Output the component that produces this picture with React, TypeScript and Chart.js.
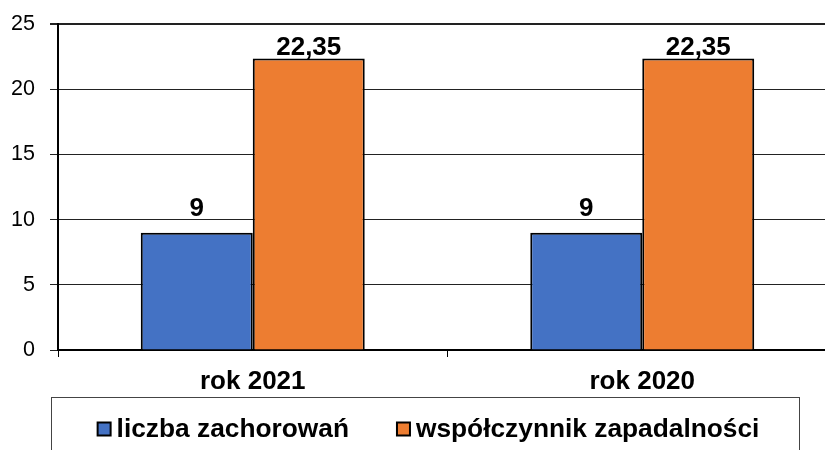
import React, { useEffect, useRef } from "react";
import { Chart, registerables } from "chart.js";

Chart.register(...registerables);

const categories = ["rok 2021", "rok 2020"];
const seriesNames = ["liczba zachorowań", "współczynnik zapadalności"];
const casesValues = [9, 9];
const rateValues = [22.35, 22.35];
const labelTexts = [["9", "9"], ["22,35", "22,35"]];
const yTicks = [0, 5, 10, 15, 20, 25];

const FONT = "'Liberation Sans', Arial, sans-serif";
const COLORS = ["#4472C4", "#ED7D31"];

const dataLabelPlugin = {
  id: "dataLabels",
  afterDatasetsDraw(chart: any) {
    const ctx = chart.ctx;
    ctx.save();
    ctx.font = `bold 26px ${FONT}`;
    ctx.fillStyle = "#000";
    ctx.textAlign = "center";
    ctx.textBaseline = "alphabetic";
    chart.data.datasets.forEach((ds: any, di: number) => {
      const meta = chart.getDatasetMeta(di);
      meta.data.forEach((bar: any, i: number) => {
        const y = Math.max(bar.y - 17, chart.chartArea.top + 31);
        ctx.fillText(labelTexts[di][i], bar.x, y);
      });
    });
    ctx.restore();
  },
};

const legendPlugin = {
  id: "boxLegend",
  afterDraw(chart: any) {
    const ctx = chart.ctx;
    ctx.save();
    const boxLeft = 51;
    const boxRight = 799;
    const boxTop = 397;
    ctx.strokeStyle = "#444";
    ctx.lineWidth = 1;
    ctx.strokeRect(boxLeft + 0.5, boxTop + 0.5, boxRight - boxLeft, 100);
    ctx.font = `bold 26.3px ${FONT}`;
    const sq = 13;
    const gapText = 6;
    const gapItems = 48;
    const widths = chart.data.datasets.map(
      (ds: any) => sq + gapText + ctx.measureText(ds.label).width
    );
    const total = widths.reduce((a: number, b: number) => a + b, 0) + gapItems * (widths.length - 1);
    let x = (boxLeft + boxRight) / 2 - total / 2 + 3.5;
    const cy = 429;
    chart.data.datasets.forEach((ds: any, i: number) => {
      ctx.fillStyle = ds.backgroundColor;
      ctx.fillRect(x, cy - sq / 2, sq, sq);
      ctx.strokeStyle = "#000";
      ctx.lineWidth = 2;
      ctx.strokeRect(x, cy - sq / 2, sq, sq);
      ctx.fillStyle = "#000";
      ctx.textAlign = "left";
      ctx.textBaseline = "middle";
      ctx.fillText(ds.label, x + sq + gapText, cy + 1);
      x += widths[i] + gapItems;
    });
    ctx.restore();
  },
};

export default function App() {
  const ref = useRef<HTMLCanvasElement>(null);
  useEffect(() => {
    document.body.style.margin = "0";
    const chart = new Chart(ref.current!, {
      type: "bar",
      data: {
        labels: categories,
        datasets: [
          {
            label: seriesNames[0],
            data: casesValues,
            backgroundColor: COLORS[0],
            borderColor: "#000",
            borderWidth: 2,
            categoryPercentage: 0.575,
            barPercentage: 1,
          },
          {
            label: seriesNames[1],
            data: rateValues,
            backgroundColor: COLORS[1],
            borderColor: "#000",
            borderWidth: 2,
            categoryPercentage: 0.575,
            barPercentage: 1,
          },
        ],
      },
      options: {
        responsive: false,
        animation: false,
        layout: { padding: { top: 24, right: 0, bottom: 53, left: 0 } },
        plugins: { legend: { display: false }, tooltip: { enabled: false } },
        scales: {
          x: {
            afterFit(scale: any) {
              scale.height = 47;
              scale.paddingLeft = 0;
              scale.paddingRight = 0;
            },
            grid: {
              display: true,
              drawOnChartArea: false,
              drawTicks: true,
              tickLength: 7,
              offset: true,
              color: "#000",
              lineWidth: 1,
            },
            border: { display: true, color: "#000", width: 2 },
            ticks: {
              font: { family: FONT, size: 26, weight: "bold" },
              color: "#000",
              padding: 9,
              maxRotation: 0,
            },
          },
          y: {
            min: 0,
            max: 25,
            afterFit(scale: any) {
              scale.width = 58;
              scale.paddingTop = 0;
              scale.paddingBottom = 0;
            },
            afterBuildTicks(scale: any) {
              scale.ticks = yTicks.map((v) => ({ value: v }));
            },
            grid: {
              color: "#222",
              lineWidth: (c: any) => (c.tick && c.tick.value === 25 ? 2 : 1),
              tickLength: 8,
              drawTicks: true,
            },
            border: { display: true, color: "#000", width: 2 },
            ticks: {
              stepSize: 5,
              font: { family: FONT, size: 21.5 },
              color: "#000",
              padding: 15,
            },
          },
        },
      },
      plugins: [dataLabelPlugin, legendPlugin],
    } as any);
    return () => chart.destroy();
  }, []);
  return (
    <div style={{ width: 825, height: 450, overflow: "hidden" }}>
      <canvas ref={ref} width={837} height={450} style={{ display: "block" }} />
    </div>
  );
}
